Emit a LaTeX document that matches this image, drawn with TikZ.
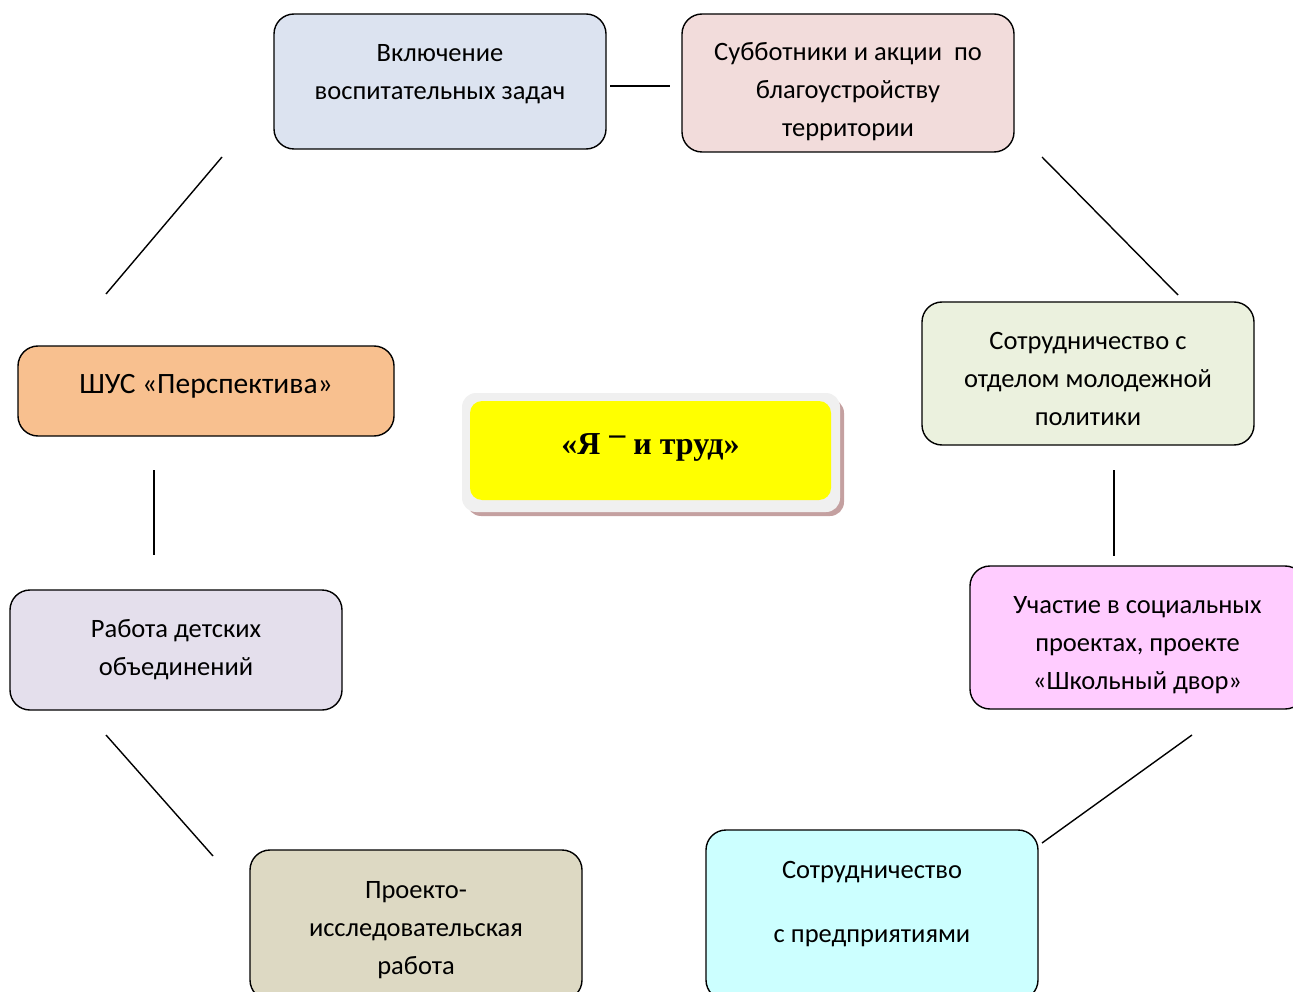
\documentclass[tikz,border=0pt]{standalone}
\usepackage{fontspec}
\setmainfont{Carlito}
\newfontfamily\timesfont{Liberation Serif}
\definecolor{cblue}{HTML}{DCE3F0}
\definecolor{cpink}{HTML}{F2DCDB}
\definecolor{cgreen}{HTML}{EBF1DE}
\definecolor{cviolet}{HTML}{FFCCFF}
\definecolor{ccyan}{HTML}{CCFFFF}
\definecolor{ctan}{HTML}{DDD9C3}
\definecolor{clilac}{HTML}{E4DFEC}
\definecolor{corange}{HTML}{F8C08F}
\definecolor{cshadow}{HTML}{C4A0A0}
\definecolor{cyellow}{HTML}{FFFF00}
\begin{document}
\begin{tikzpicture}[x=1pt,y=-1pt,
  block/.style={draw, rounded corners=20pt, line width=1.4pt, inner sep=0pt},
  txt/.style={align=center, inner sep=0pt, font=\fontsize{26.5}{38}\selectfont},
  link/.style={line width=1.4pt}]
  \useasboundingbox (0,0) rectangle (1293,992);
  % center
  \fill[cshadow, rounded corners=14pt] (467,399) rectangle (844,516);
  \node[fill=black!6, rounded corners=14pt, minimum width=378pt, minimum height=119pt] (frame) at (651,452.5) {};
  \node[fill=cyellow, rounded corners=12pt, minimum width=361pt, minimum height=99pt] (core) at (650.5,450.5) {};
  \node[font=\timesfont\bfseries\fontsize{32}{36}\selectfont] (core-t) at ([yshift=3pt]core)
    {«Я\;\raisebox{0.3em}{–} и труд»};
  % blocks
  \node[block, fill=cblue, minimum width=332pt, minimum height=135pt] (tasks) at (440,81.5) {};
  \node[txt] (tasks-t) at ([yshift=7pt]tasks) {Включение\\воспитательных задач};
  \node[block, fill=cpink, minimum width=332pt, minimum height=138pt] (clean) at (848,83) {};
  \node[txt] (clean-t) at ([yshift=-9pt]clean) {Субботники и акции\ \ по\\благоустройству\\территории};
  \node[block, fill=cgreen, minimum width=332pt, minimum height=143pt] (youth) at (1088,373.5) {};
  \node[txt] (youth-t) at ([yshift=-5pt]youth) {Сотрудничество с\\отделом молодежной\\политики};
  \node[block, fill=cviolet, minimum width=335pt, minimum height=143pt] (social) at (1137.5,637.5) {};
  \node[txt] (social-t) at ([yshift=-8pt]social) {Участие в социальных\\проектах, проекте\\«Школьный двор»};
  \node[block, fill=ccyan, minimum width=332pt, minimum height=170pt] (firms) at (872,915) {};
  \node[txt] (firms-t) at ([yshift=11pt]firms) {Сотрудничество\\[26pt]с предприятиями};
  \node[block, fill=ctan, minimum width=332pt, minimum height=150pt] (research) at (416,925) {};
  \node[txt] (research-t) at ([yshift=-5pt]research) {Проекто-\\исследовательская\\работа};
  \node[block, fill=clilac, minimum width=332pt, minimum height=120pt] (clubs) at (176,650) {};
  \node[txt] (clubs-t) at (clubs) {Работа детских\\объединений};
  \node[block, fill=corange, minimum width=376pt, minimum height=90pt] (shus) at (206,391) {};
  \node[txt, font=\fontsize{29.5}{38}\selectfont] (shus-t) at ([yshift=5pt]shus) {ШУС «Перспектива»};
  % links
  \coordinate (l1a) at (610,86);   \coordinate (l1b) at (670,86);
  \coordinate (l2a) at (1042,157); \coordinate (l2b) at (1178,295);
  \coordinate (l3a) at (1114,470); \coordinate (l3b) at (1114,556);
  \coordinate (l4a) at (1192,735); \coordinate (l4b) at (1042,843);
  \coordinate (l5a) at (106,735);  \coordinate (l5b) at (213,856);
  \coordinate (l6a) at (154,470);  \coordinate (l6b) at (154,555);
  \coordinate (l7a) at (106,294);  \coordinate (l7b) at (222,157);
  \foreach \i in {1,...,7}
    \draw[link] (l\i a) -- (l\i b);
\end{tikzpicture}
\end{document}
